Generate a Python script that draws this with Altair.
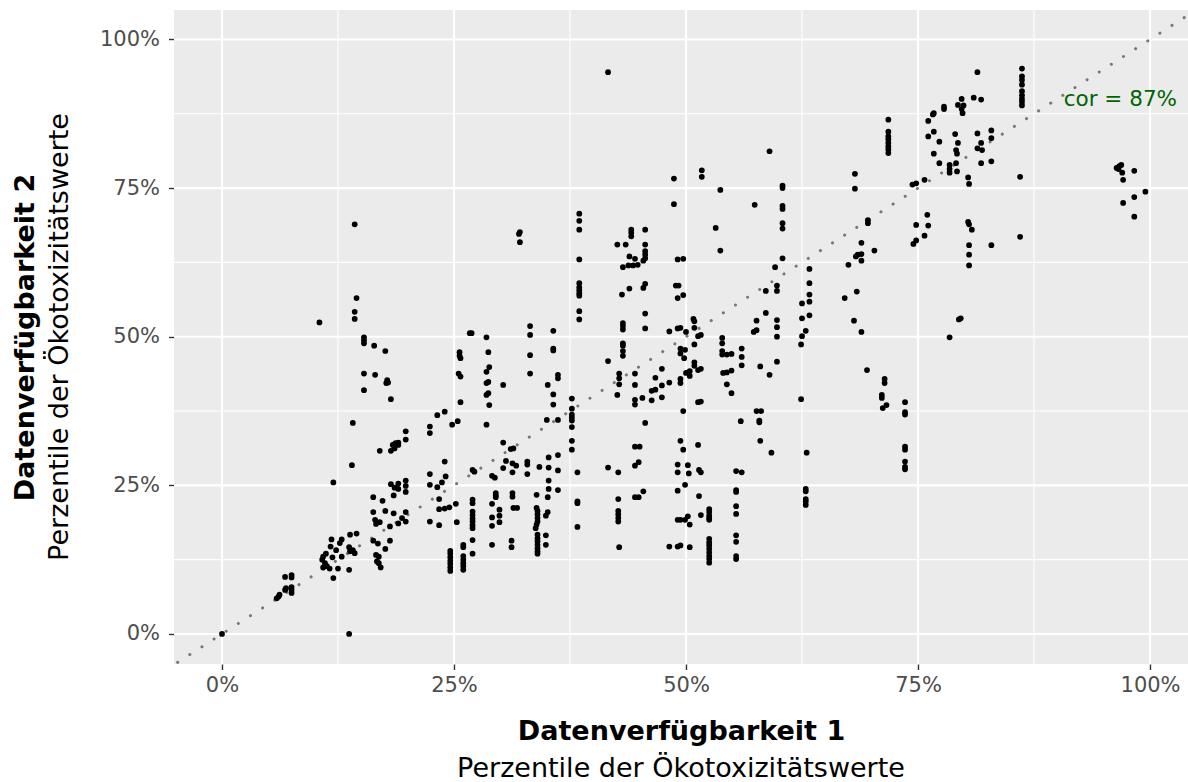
import altair as alt
import pandas as pd

# ---- data (percent values) ----
low_left = [(0, 0), (5.9, 6.0), (6.1, 6.3), (6.2, 6.6), (6.8, 7.4), (6.9, 7.7), (7.5, 6.9), (7.5, 7.4),
            (7.5, 7.9), (6.8, 9.6), (7.5, 9.9), (7.5, 9.5)]
cluster_11_14 = [(11.8, 15.9), (11.7, 14.7), (12.9, 15.9), (12.7, 15.3), (12.3, 14.1), (10.9, 13.0), (11.2, 13.5),
                 (10.8, 12.5), (11.1, 11.9), (10.9, 11.2), (11.3, 11.4), (11.6, 11.0), (11.9, 12.9), (12.0, 9.4),
                 (12.5, 11.0), (12.9, 13.0), (13.7, 14.6), (13.8, 13.9), (14.1, 14.1), (14.3, 13.6), (13.7, 10.8),
                 (13.8, 16.7), (14.5, 16.9), (13.7, 0.0), (12.0, 25.5), (14.0, 28.4)]
cluster_15_20 = [(16.3, 23.0), (17.3, 22.4), (16.3, 20.5), (16.5, 19.2), (16.6, 18.5), (17.0, 18.8), (17.6, 20.7),
                 (18.5, 20.3), (19.0, 18.6), (19.8, 18.9), (19.8, 20.5), (18.1, 18.1), (19.4, 19.5), (16.3, 15.7),
                 (16.8, 15.2), (17.6, 14.3), (18.1, 15.7), (16.6, 13.3), (16.9, 13.0), (16.7, 12.2), (16.9, 11.9),
                 (17.1, 11.2), (17.0, 30.8), (18.2, 30.8), (18.2, 25.2), (18.6, 24.6), (19.0, 25.3), (19.0, 24.4),
                 (19.8, 25.8), (19.8, 24.9), (19.8, 23.9), (18.5, 23.3)]
upper_left = [(14.5, 56.5), (14.3, 54.2), (14.3, 53.0), (10.5, 52.4), (15.3, 49.9), (15.3, 49.4), (15.3, 48.9),
              (16.4, 48.5), (17.6, 47.6), (15.3, 43.8), (16.5, 43.6), (17.8, 42.7), (17.7, 42.2), (17.9, 42.3),
              (15.3, 41.0), (18.2, 39.5), (14.1, 35.5), (19.8, 34.1), (19.8, 32.7), (18.4, 31.8), (18.7, 32.1),
              (19.0, 32.2), (18.6, 31.2), (19.0, 31.8), (14.3, 68.9)]
middle_band = [(32.0, 67.3), (32.1, 67.6), (32.1, 65.9),
               (38.5, 70.7), (38.5, 69.5), (38.5, 68.0), (38.5, 63.0), (38.5, 59.0), (38.5, 58.3), (38.5, 57.8),
               (38.5, 57.3), (38.5, 56.9), (38.5, 54.3), (38.5, 52.9),
               (42.6, 65.5), (43.5, 65.5), (44.1, 68.0), (44.1, 67.5), (44.1, 66.9),
               (43.9, 63.5), (44.5, 63.1), (43.2, 61.7), (43.8, 62.0), (44.3, 62.0), (44.8, 62.1),
               (45.6, 68.0), (45.6, 65.5), (45.6, 64.4), (45.6, 63.8), (45.6, 63.2), (45.4, 62.8),
               (43.1, 57.1), (43.9, 58.1), (45.6, 58.9), (45.4, 58.2), (45.6, 53.9), (45.6, 51.4),
               (43.2, 52.3), (43.2, 51.8), (43.2, 51.2), (43.2, 48.9), (43.2, 48.5), (43.2, 47.6), (43.2, 46.8),
               (48.2, 50.9), (26.7, 50.6), (26.9, 50.6),
               (25.6, 47.4), (25.6, 46.8), (25.7, 46.4), (25.5, 43.8), (25.7, 43.3), (25.7, 39.0),
               (28.5, 49.9), (28.7, 47.4), (28.8, 44.9), (28.5, 44.1), (28.5, 42.2), (28.7, 42.4), (28.5, 40.2),
               (28.7, 40.5), (28.8, 38.5), (30.3, 41.9),
               (33.2, 51.8), (33.2, 50.3), (33.2, 46.9), (33.2, 43.8),
               (35.7, 51.0), (35.7, 48.0), (35.7, 47.7), (36.2, 43.6), (36.2, 43.0), (35.1, 41.9), (35.7, 40.3),
               (35.7, 38.6), (35.0, 36.0), (36.2, 36.0),
               (37.7, 39.6), (37.7, 37.9), (37.7, 36.9), (37.7, 36.4), (37.7, 35.9), (37.7, 34.8), (37.7, 32.5),
               (37.7, 31.0),
               (22.4, 34.9), (22.4, 33.8), (23.2, 36.8), (24.0, 37.4), (24.8, 35.2), (25.4, 35.8), (28.5, 35.2),
               (30.3, 32.2), (31.4, 31.2), (31.1, 31.1), (36.2, 30.1),
               (41.6, 45.9), (42.8, 43.8), (42.8, 43.0), (42.8, 42.0), (42.6, 40.2), (44.5, 43.8), (44.5, 41.9),
               (44.5, 39.4), (44.5, 38.6), (45.3, 39.7), (46.3, 40.9), (46.7, 41.1), (46.3, 39.3), (46.7, 43.1),
               (47.4, 44.6), (47.4, 41.8), (47.4, 39.8), (48.2, 42.3), (45.6, 35.5), (44.5, 31.5), (45.0, 31.5)]
upper_middle = [(41.6, 94.5), (48.7, 76.6), (48.7, 72.3), (51.7, 78.0), (51.7, 76.9), (53.7, 74.7), (59.0, 81.2),
                (57.4, 72.2), (53.2, 68.3),
                (60.4, 75.4), (60.4, 75.0), (60.4, 72.0), (60.4, 71.5), (60.4, 69.1), (60.4, 68.2),
                (68.2, 77.4), (68.2, 74.9),
                (71.8, 86.5), (71.8, 84.5), (71.8, 83.7), (71.8, 83.2), (71.8, 82.6), (71.8, 82.0), (71.8, 81.5),
                (71.8, 80.9),
                (74.4, 75.6), (74.8, 75.8), (74.8, 68.8), (69.6, 69.6), (69.6, 69.1)]
upper_right = [(86.2, 95.1), (86.2, 93.8), (86.2, 93.2), (86.2, 92.4), (86.2, 91.3), (86.2, 90.6), (86.2, 90.0),
               (86.2, 89.5), (86.2, 88.9), (86.0, 76.9),
               (81.4, 94.5), (81.0, 90.2), (81.8, 89.9), (79.7, 90.0), (79.3, 89.0), (79.9, 88.9), (79.7, 88.3),
               (79.8, 87.6), (77.8, 88.7), (77.8, 88.3), (76.7, 87.6), (76.6, 87.4), (76.1, 86.3), (76.7, 84.5),
               (76.1, 83.7), (77.3, 82.8), (79.0, 84.1), (81.4, 84.2), (82.9, 84.7), (82.9, 83.4), (79.3, 82.6),
               (79.1, 81.4), (79.2, 80.8), (81.8, 82.6), (81.4, 81.7), (81.9, 81.4), (76.7, 80.8), (77.3, 79.2),
               (78.4, 78.9), (78.4, 78.2), (78.4, 77.6), (79.1, 79.2), (79.2, 77.8), (81.8, 79.2), (82.9, 79.5),
               (80.4, 76.8), (80.5, 75.7), (75.7, 76.4), (76.0, 70.5), (76.1, 68.7), (80.4, 69.3), (80.5, 68.9),
               (80.8, 68.0),
               (96.4, 78.4), (96.7, 78.7), (96.9, 78.9), (96.6, 78.2), (97.0, 77.6), (97.1, 76.4), (98.3, 77.9),
               (99.5, 74.4), (98.3, 73.5), (97.1, 72.5), (98.3, 70.2),
               (75.7, 67.0), (80.5, 65.4), (80.5, 63.8), (80.5, 62.0), (82.9, 65.4), (86.0, 66.8), (79.6, 53.1),
               (79.4, 52.9), (78.4, 49.9)]
center_right = [(53.7, 64.5), (49.1, 63.0), (49.7, 63.1), (48.9, 58.6), (49.2, 58.6), (49.1, 56.5), (49.7, 57.0),
                (50.8, 53.0), (50.9, 52.6), (50.9, 51.5), (49.1, 51.4), (49.4, 51.5), (50.0, 50.8), (51.3, 50.1),
                (51.6, 50.3), (50.9, 48.7), (49.4, 48.0), (49.9, 47.8), (49.4, 47.2), (49.8, 46.4), (50.9, 45.7),
                (50.9, 45.1), (51.3, 44.4), (51.6, 44.6), (50.0, 43.9), (50.4, 44.2), (50.4, 43.4), (49.4, 42.9),
                (49.4, 42.2), (51.3, 39.0), (51.6, 39.1), (49.7, 37.5), (49.4, 32.5), (49.7, 31.0), (51.3, 31.8),
                (53.9, 49.8), (53.9, 48.9), (53.9, 47.6), (53.9, 47.0), (54.4, 47.0), (54.9, 47.1), (54.0, 43.9),
                (54.4, 44.0), (54.9, 44.3), (54.4, 42.0), (54.9, 40.5), (56.0, 48.0), (56.0, 46.6), (56.0, 45.2),
                (58.6, 57.7), (58.6, 54.0), (57.6, 52.7), (57.6, 51.1), (57.3, 50.8), (59.8, 58.6), (59.8, 57.7),
                (59.6, 61.7), (60.4, 63.2), (59.8, 52.8), (59.8, 51.6), (59.8, 50.0), (59.8, 45.8), (58.0, 45.0),
                (59.0, 43.6),
                (62.5, 55.6), (62.5, 53.1), (62.5, 50.1), (62.4, 48.7), (62.9, 51.0), (63.3, 61.4), (63.3, 59.0),
                (63.3, 57.1), (63.3, 55.9), (63.3, 53.6), (62.4, 39.5),
                (57.6, 37.5), (58.1, 37.5), (57.9, 35.9), (57.9, 35.6), (55.9, 35.8), (58.0, 32.5), (59.2, 30.5),
                (63.0, 30.5),
                (67.5, 62.1), (67.1, 56.5), (68.4, 57.6), (68.1, 52.7), (68.9, 50.8), (68.3, 63.5), (68.5, 63.8),
                (68.9, 63.9), (68.9, 65.8), (68.9, 62.8), (70.3, 64.5), (74.5, 65.6), (74.8, 66.2),
                (69.5, 44.4), (71.4, 42.9), (71.4, 42.2), (71.1, 40.2), (71.1, 39.7), (71.6, 38.5), (71.2, 38.0),
                (73.6, 39.0), (73.6, 37.3), (73.6, 36.9), (73.6, 31.5), (73.6, 31.0)]
lower_middle = [(24.0, 29.0), (22.4, 26.9), (22.4, 25.1), (23.2, 24.7), (23.7, 25.5), (24.1, 26.5), (23.4, 22.7),
                (23.4, 21.0), (24.0, 21.1), (24.5, 21.3), (25.2, 21.9), (22.4, 18.9), (23.4, 18.3), (25.3, 18.8),
                (24.6, 14.0), (24.6, 13.5), (24.6, 12.9), (24.6, 12.3), (24.6, 11.8), (24.6, 11.2), (24.6, 10.6),
                (26.0, 15.0), (26.0, 14.6), (26.0, 13.1), (26.0, 12.5), (26.0, 11.9), (26.0, 11.4), (26.0, 10.8),
                (27.0, 22.6), (27.0, 22.0), (27.0, 20.6), (27.0, 20.0), (27.0, 19.4), (27.0, 18.9), (27.0, 18.3),
                (27.0, 17.8), (27.0, 15.8), (27.0, 13.5), (27.0, 27.6), (27.2, 27.3),
                (29.1, 26.6), (29.4, 26.3), (29.1, 21.9), (29.5, 23.7), (29.5, 23.3), (29.5, 23.0), (29.1, 19.6),
                (29.1, 18.2), (29.9, 20.9), (29.9, 19.9), (29.9, 18.8), (29.1, 15.0),
                (30.3, 27.9), (30.6, 29.1), (31.3, 28.7), (31.7, 28.3), (31.3, 27.2), (31.3, 23.7), (31.3, 23.1),
                (31.4, 21.2), (31.8, 21.2), (31.2, 15.7), (31.2, 14.6),
                (32.9, 29.0), (32.9, 28.5), (32.9, 26.9), (34.2, 28.1), (33.9, 23.4),
                (33.9, 21.2), (34.0, 20.7), (34.0, 20.1), (34.0, 19.5), (34.0, 18.9), (33.9, 18.4), (33.8, 17.8),
                (34.0, 16.7), (34.0, 16.1), (34.0, 15.6), (34.0, 15.0), (34.0, 14.4), (34.0, 13.9), (34.0, 13.5),
                (34.9, 16.6), (34.9, 15.0), (35.1, 20.5), (34.9, 19.9), (35.2, 29.7), (35.2, 28.0), (35.2, 25.8),
                (35.2, 24.4), (35.1, 23.0), (36.2, 27.5), (36.2, 24.2),
                (38.3, 27.2), (38.3, 22.3), (38.3, 22.0), (38.3, 18.0),
                (41.6, 28.0), (42.7, 27.2), (42.7, 22.7), (42.7, 20.7), (42.7, 20.1), (42.7, 19.5), (42.7, 18.9),
                (42.8, 14.6), (44.5, 28.3), (44.9, 28.9), (44.5, 23.0), (44.9, 23.0), (45.4, 24.0), (48.2, 14.7)]
lower_right = [(49.1, 28.5), (49.1, 27.2), (50.2, 28.4), (50.3, 27.0), (51.4, 27.6), (51.6, 27.2), (49.1, 24.1),
               (49.9, 25.1), (51.4, 23.2), (49.1, 19.2), (49.4, 19.2), (49.9, 19.2), (50.2, 19.8), (50.4, 18.4),
               (51.6, 20.0),
               (52.5, 21.0), (52.5, 20.5), (52.5, 19.9), (52.5, 19.5), (52.5, 19.2), (52.5, 16.0), (52.5, 15.4),
               (52.5, 14.9), (52.5, 14.3), (52.5, 13.7), (52.5, 13.1), (52.5, 12.6), (52.5, 12.0),
               (49.1, 14.7), (49.4, 14.9), (50.4, 14.6),
               (55.4, 27.4), (56.0, 27.2), (55.4, 24.2), (55.4, 23.9), (55.4, 21.5), (55.4, 20.2), (55.4, 16.6),
               (55.4, 15.5), (55.4, 13.1), (55.4, 12.6),
               (62.9, 24.4), (62.9, 24.0), (62.9, 22.7), (62.9, 22.3), (62.9, 21.7),
               (73.6, 29.0), (73.6, 28.1), (73.6, 27.7)]

major_breaks = [0, 0.25, 0.5, 0.75, 1.0]
minor_breaks = [0.125, 0.375, 0.625, 0.875]
diag_ends = [-0.1, 1.1]
cor_label = "cor = 87%"
cor_pos = (0.968, 0.899)
x_title = "Datenverfügbarkeit 1"
y_title = "Datenverfügbarkeit 2"
subtitle = "Perzentile der Ökotoxizitätswerte"

all_pts = (low_left + cluster_11_14 + cluster_15_20 + upper_left + middle_band + upper_middle +
           upper_right + center_right + lower_middle + lower_right)
pts = pd.DataFrame(all_pts, columns=["x", "y"]) / 100.0

W, H = 1014, 654
FONT = "DejaVu Sans"
xs = alt.Scale(domain=[-0.0517, 1.0409], nice=False, zero=False)
ys = alt.Scale(domain=[-0.0505, 1.0496], nice=False, zero=False)

common_axis = dict(grid=False, domain=False, format=".0%", values=major_breaks,
                   labelFont=FONT, labelFontSize=21, labelColor="#4D4D4D",
                   tickColor="#333333", tickSize=5.5, tickWidth=1.4,
                   titleFont=FONT, titleFontSize=27, titleFontWeight="bold", titleColor="black")

x_axis = alt.Axis(title=x_title, labelPadding=5, titleY=67, titleBaseline="middle", **common_axis)
y_axis = alt.Axis(title=y_title, labelPadding=9, titleX=-149, titleY=H / 2, titleAngle=270,
                  titleBaseline="middle", titleAlign="center", **common_axis)


def X(field):
    return alt.X(field, scale=xs, axis=x_axis)


def Y(field):
    return alt.Y(field, scale=ys, axis=y_axis)


minor_df = pd.DataFrame({"v": minor_breaks})
major_df = pd.DataFrame({"v": major_breaks})

vminor = alt.Chart(minor_df).mark_rule(color="white", strokeWidth=1.1).encode(x=X("v:Q"))
hminor = alt.Chart(minor_df).mark_rule(color="white", strokeWidth=1.1).encode(y=Y("v:Q"))
vmajor = alt.Chart(major_df).mark_rule(color="white", strokeWidth=2.2).encode(x=X("v:Q"))
hmajor = alt.Chart(major_df).mark_rule(color="white", strokeWidth=2.2).encode(y=Y("v:Q"))

points = alt.Chart(pts).mark_circle(color="black", opacity=1, size=33).encode(x=X("x:Q"), y=Y("y:Q"))

diag_df = pd.DataFrame({"x": diag_ends, "y": diag_ends})
diag = alt.Chart(diag_df).mark_line(color="#777777", strokeWidth=3, strokeCap="round",
                                    strokeDash=[0.1, 14.3], clip=True).encode(x=X("x:Q"), y=Y("y:Q"))

cor_df = pd.DataFrame({"x": [cor_pos[0]], "y": [cor_pos[1]], "t": [cor_label]})
cor = alt.Chart(cor_df).mark_text(color="#006400", font=FONT, fontSize=21.5, align="center",
                                  baseline="middle").encode(x=X("x:Q"), y=Y("y:Q"), text="t:N")

sub_df = pd.DataFrame({"t": [subtitle]})
x_sub = alt.Chart(sub_df).mark_text(font=FONT, fontSize=27, color="black", align="center",
                                    baseline="middle").encode(
    x=alt.value(W / 2), y=alt.value(H + 105), text="t:N")
y_sub = alt.Chart(sub_df).mark_text(font=FONT, fontSize=27, color="black", align="center",
                                    baseline="middle", angle=270).encode(
    x=alt.value(-114), y=alt.value(H / 2), text="t:N")

chart = alt.layer(vminor, hminor, vmajor, hmajor, diag, points, cor, x_sub, y_sub).properties(
    width=W, height=H,
    autosize=alt.AutoSizeParams(type="none"),
    padding={"left": 174, "top": 10, "right": 0, "bottom": 118},
    background="white",
).configure_view(fill="#EBEBEB", stroke=None)

chart.save("out.html", embed_options={"renderer": "svg", "actions": False})
